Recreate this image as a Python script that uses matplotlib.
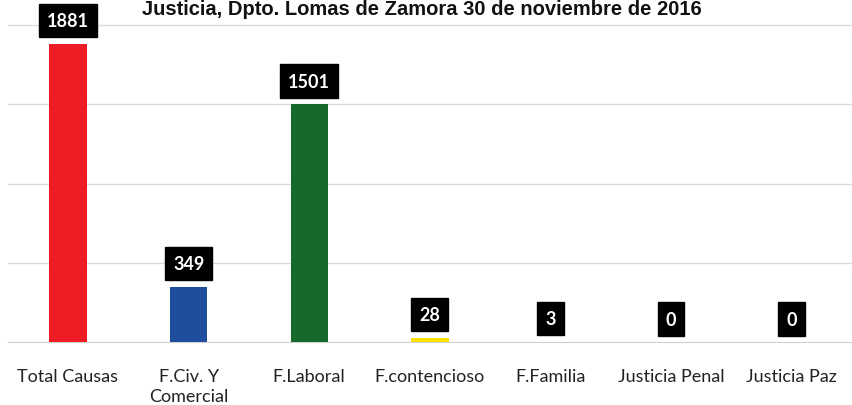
import matplotlib
matplotlib.use('Agg')
import matplotlib.pyplot as plt

# Datos
categorias = ['Total Causas', 'F.Civ. Y\nComercial', 'F.Laboral', 'F.contencioso',
              'F.Familia', 'Justicia Penal', 'Justicia Paz']
valores = [1881, 349, 1501, 28, 3, 0, 0]
colores = ['#ee1c25', '#1f4e9c', '#17692b', '#ffe000', '#111111', '#111111', '#111111']
titulo = 'Justicia, Dpto. Lomas de Zamora 30 de noviembre de 2016'

fig = plt.figure(figsize=(8.52, 4.06), dpi=100)
fig.patch.set_facecolor('white')
ax = fig.add_axes([0.009, 0.155, 0.991, 0.845])

x = range(len(categorias))
bars = ax.bar(x, valores, width=0.31, color=colores, zorder=3)

ax.set_xlim(-0.5, len(categorias) - 0.5)
ax.set_ylim(0, 2164)
ax.set_yticks([500, 1000, 1500, 2000])
ax.yaxis.grid(True, color='#dcdcdc', linewidth=1.0, zorder=0)
ax.tick_params(axis='y', left=False, labelleft=False)
ax.tick_params(axis='x', bottom=False, pad=15)
ax.set_xticks(list(x))
ax.set_xticklabels(categorias, fontsize=13, family='Lato', color='#222222',
                   linespacing=1.35)
for s in ['top', 'right', 'left']:
    ax.spines[s].set_visible(False)
ax.spines['bottom'].set_color('#d0d0d0')

# etiquetas de valor en cajas negras
for bar, v in zip(bars, valores):
    ax.annotate(str(v), (bar.get_x() + bar.get_width() / 2, bar.get_height()),
                xytext=(0, 23), textcoords='offset pixels',
                ha='center', va='center', fontsize=13, weight='bold',
                family='Lato', color='white', zorder=5,
                bbox=dict(boxstyle='square,pad=0.45', facecolor='black',
                          edgecolor='black'))

# titulo en el borde superior
fig.text(0.495, 0.999, titulo, ha='center', va='top', fontsize=14.5,
         weight='bold', family='Liberation Sans', color='#111111')

fig.savefig('out.png', dpi=100)
